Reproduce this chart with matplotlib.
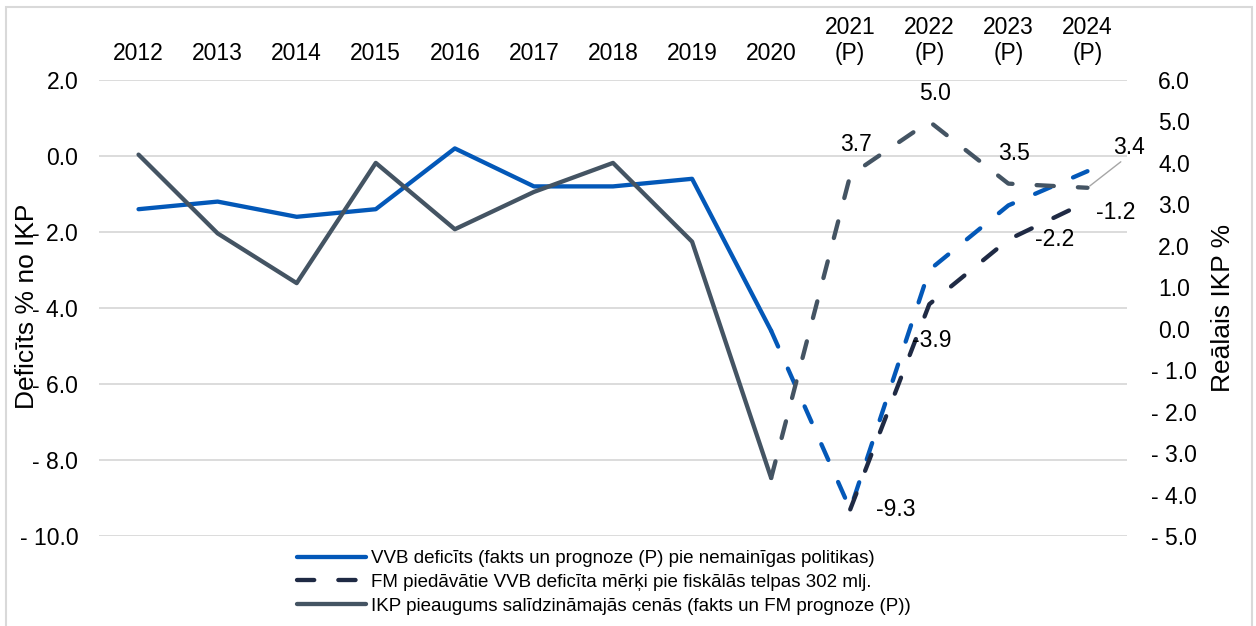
import matplotlib
matplotlib.use("Agg")
import matplotlib.pyplot as plt
import numpy as np
from matplotlib.lines import Line2D
from matplotlib.patches import Rectangle
from matplotlib.ticker import FuncFormatter

plt.rcParams['font.family'] = ['Liberation Sans', 'DejaVu Sans']

# --- data -------------------------------------------------------------
years = ['2012', '2013', '2014', '2015', '2016', '2017', '2018', '2019', '2020',
         '2021\n(P)', '2022\n(P)', '2023\n(P)', '2024\n(P)']
# VVB deficits, % no IKP (fakts + prognoze pie nemainigas politikas)
vvb_deficit = [-1.4, -1.2, -1.6, -1.4, 0.2, -0.8, -0.8, -0.6, -4.6, -9.3, -3.0, -1.3, -0.4]
# FM piedavatie merki (2021-2024)
fm_target = [-9.3, -3.9, -2.2, -1.2]
fm_first = 9
# realais IKP pieaugums, %
gdp_growth = [4.2, 2.3, 1.1, 4.0, 2.4, 3.3, 4.0, 2.1, -3.6, 3.7, 5.0, 3.5, 3.4]
last_fact = 8  # 2020 - no sejienes prognoze (raustita linija)

legend_labels = ['VVB deficīts (fakts un prognoze (P) pie nemainīgas politikas)',
                 'FM piedāvātie VVB deficīta mērķi pie fiskālās telpas 302 mlj.',
                 'IKP pieaugums salīdzināmajās cenās (fakts un FM prognoze (P))']

BLUE = '#0358B8'
NAVY = '#1F2A44'
GRAY = '#445463'
GRID = '#D9D9D9'
LW = 3.1
DASH = (4.0, 5.6)

W, H = 1256, 626
fig = plt.figure(figsize=(W / 100, H / 100), dpi=100)
ax = fig.add_axes([99 / W, 1 - 536 / H, 1028 / W, 456 / H])
ax2 = ax.twinx()

x = np.arange(len(years))

def draw(a, xs, ys, color, dashed=False):
    kw = dict(color=color, lw=LW, solid_capstyle='round', solid_joinstyle='round',
              dash_capstyle='round', dash_joinstyle='round')
    if dashed:
        kw['dashes'] = DASH
    a.plot(xs, ys, **kw)

draw(ax, x[:last_fact + 1], vvb_deficit[:last_fact + 1], BLUE)
draw(ax, x[last_fact:], vvb_deficit[last_fact:], BLUE, dashed=True)
draw(ax, x[fm_first:], fm_target, NAVY, dashed=True)
draw(ax2, x[:last_fact + 1], gdp_growth[:last_fact + 1], GRAY)
draw(ax2, x[last_fact:], gdp_growth[last_fact:], GRAY, dashed=True)

# data labels (offsets in points)
fs = 16.5
fm_offsets = [(33, 0), (2, -26), (33, 0), (20, -8)]
for i, v in enumerate(fm_target):
    ax.annotate(f'{v:.1f}', (x[fm_first + i], v), xytext=fm_offsets[i],
                textcoords='offset points', ha='center', va='center', fontsize=fs)
gdp_offsets = {9: (4, 22), 10: (4, 20), 11: (4, 22)}
for i, (dx, dy) in gdp_offsets.items():
    ax2.annotate(f'{gdp_growth[i]:.1f}', (x[i], gdp_growth[i]), xytext=(dx, dy),
                 textcoords='offset points', ha='center', va='center', fontsize=fs)
ax2.annotate(f'{gdp_growth[12]:.1f}', (x[12], gdp_growth[12]), xytext=(30, 29),
             textcoords='offset points', ha='center', va='center', fontsize=fs,
             arrowprops=dict(arrowstyle='-', color='#A6A6A6', lw=1,
                             shrinkA=0, shrinkB=2, relpos=(0.35, 0.0)))

# axes
ax.set_xlim(-0.5, len(years) - 0.5)
ax.set_ylim(-10, 2)
ax2.set_ylim(-5, 6)
ax.set_yticks(np.arange(-10, 2.1, 2))
ax2.set_yticks(np.arange(-5, 6.1, 1))

def fmt(v, pos):
    return f'{v:.1f}' if v >= -1e-9 else f'- {abs(v):.1f}'

ax.yaxis.set_major_formatter(FuncFormatter(fmt))
ax2.yaxis.set_major_formatter(FuncFormatter(fmt))
ax.set_xticks(x)
ax.set_xticklabels(years)
ax.xaxis.tick_top()
ax.tick_params(axis='x', length=0, pad=10.5, labelsize=fs)
ax.tick_params(axis='y', length=0, pad=15, labelsize=fs)
ax2.tick_params(axis='y', length=0, pad=34, labelsize=fs)
for t in ax2.yaxis.get_major_ticks():
    t.label2.set_horizontalalignment('center')

ax.grid(axis='y', color=GRID, lw=1.3)
ax.set_axisbelow(True)
for a in (ax, ax2):
    for s in a.spines.values():
        s.set_visible(False)

fig.text(27 / W, 1 - 306 / H, 'Deficīts % no IKP', rotation=90, ha='center', va='center', fontsize=19)
fig.text(1223 / W, 1 - 308 / H, 'Reālais IKP %', rotation=90, ha='center', va='center', fontsize=19)

handles = [Line2D([], [], color=BLUE, lw=LW, solid_capstyle='round'),
           Line2D([], [], color=NAVY, lw=LW, dashes=DASH, dash_capstyle='round'),
           Line2D([], [], color=GRAY, lw=LW, solid_capstyle='round')]
fig.legend(handles, legend_labels, loc='upper left', bbox_to_anchor=(297 / W, 1 - 550 / H),
           frameon=False, fontsize=13.5, handlelength=3.7, handletextpad=0.27,
           labelspacing=0.36, borderpad=0, borderaxespad=0)

fig.patches.append(Rectangle((6 / W, -0.02), 1246 / W, 1 - 7 / H + 0.02, transform=fig.transFigure,
                             fill=False, ec=GRID, lw=1.5))

fig.savefig('out.png', dpi=100)
